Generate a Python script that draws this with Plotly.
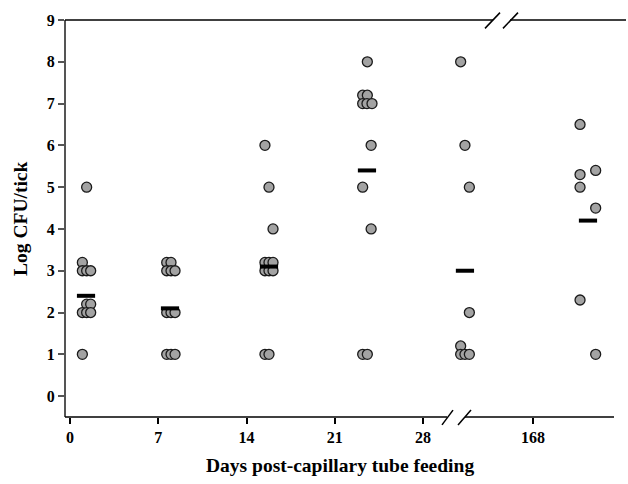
import plotly.graph_objects as go

# ---- data ----
tick_days = [0, 7, 14, 21, 28]
tick_168 = [168]

# each group: x positions (on the axis scale, incl. jitter) and Log CFU/tick values
d0_x = [1.32, 0.98, 0.98, 1.32, 1.64, 1.32, 1.64, 0.98, 1.32, 1.64, 0.98]
d0_y = [5.0, 3.2, 3.0, 3.0, 3.0, 2.2, 2.2, 2.0, 2.0, 2.0, 1.0]
d7_x = [7.67, 8.01, 7.67, 8.01, 8.33, 7.67, 8.01, 8.33, 7.67, 8.01, 8.33]
d7_y = [3.2, 3.2, 3.0, 3.0, 3.0, 2.0, 2.0, 2.0, 1.0, 1.0, 1.0]
d14_x = [15.46, 15.78, 16.10, 15.46, 15.78, 16.10, 15.46, 15.78, 16.10, 15.46, 15.78]
d14_y = [6.0, 5.0, 4.0, 3.2, 3.2, 3.2, 3.0, 3.0, 3.0, 1.0, 1.0]
d21_x = [23.58, 23.21, 23.58, 23.21, 23.55, 23.95, 23.88, 23.21, 23.88, 23.21, 23.58]
d21_y = [8.0, 7.2, 7.2, 7.0, 7.0, 7.0, 6.0, 5.0, 4.0, 1.0, 1.0]
d28_x = [30.98, 31.32, 31.67, 31.67, 30.98, 30.98, 31.32, 31.67]
d28_y = [8.0, 6.0, 5.0, 2.0, 1.2, 1.0, 1.0, 1.0]
d168_x = [171.73, 172.97, 171.73, 171.73, 172.97, 171.73, 172.97]
d168_y = [6.5, 5.4, 5.3, 5.0, 4.5, 2.3, 1.0]

mean_x = [1.27, 7.93, 15.78, 23.55, 31.32]
mean_y = [2.4, 2.1, 3.1, 5.4, 3.0]
mean168_x = [172.36]
mean168_y = [4.2]

# ---- figure ----
FONT = "Liberation Serif"
pt_marker = dict(symbol="circle", size=10, color="#a3a3a3",
                 line=dict(color="#1a1a1a", width=1.3))
bar_marker = dict(symbol="line-ew", size=13, color="black",
                  line=dict(color="black", width=4))

fig = go.Figure()
all_x = d0_x + d7_x + d14_x + d21_x + d28_x
all_y = d0_y + d7_y + d14_y + d21_y + d28_y
fig.add_trace(go.Scatter(x=all_x, y=all_y, mode="markers", marker=pt_marker,
                         xaxis="x", yaxis="y", showlegend=False))
fig.add_trace(go.Scatter(x=d168_x, y=d168_y, mode="markers", marker=pt_marker,
                         xaxis="x2", yaxis="y", showlegend=False))
fig.add_trace(go.Scatter(x=mean_x, y=mean_y, mode="markers", marker=bar_marker,
                         xaxis="x", yaxis="y", showlegend=False))
fig.add_trace(go.Scatter(x=mean168_x, y=mean168_y, mode="markers", marker=bar_marker,
                         xaxis="x2", yaxis="y", showlegend=False))

# layout in pixels
W, H = 628, 484
L, R, T, B = 66, 614, 14, 417
PW, PH = R - L, B - T
px_per_day = 12.61
split_px = 500


def px(xp):
    return (xp - L) / PW


def py(yp):
    return (B - yp) / PH


tickfont = dict(family=FONT, size=16, color="black", weight="bold")
xcommon = dict(showline=False, showgrid=False, zeroline=False, ticks="outside",
               ticklen=6, tickwidth=1.5, tickcolor="black", tickfont=tickfont,
               anchor="y", fixedrange=True)

fig.update_layout(
    width=W, height=H,
    margin=dict(l=L, r=W - R, t=T, b=H - B),
    paper_bgcolor="white", plot_bgcolor="white",
    xaxis=dict(domain=[0, px(split_px)],
               range=[(L - 70) / px_per_day, (split_px - 70) / px_per_day],
               tickvals=tick_days, ticktext=[str(d) for d in tick_days], **xcommon),
    xaxis2=dict(domain=[px(split_px), 1],
                range=[168 - (533 - split_px) / px_per_day, 168 + (R - 533) / px_per_day],
                tickvals=tick_168, ticktext=[str(d) for d in tick_168], **xcommon),
    yaxis=dict(range=[-0.5, 9], tickvals=list(range(10)), showgrid=False,
               zeroline=False, showline=True, linecolor="#555555", linewidth=2,
               ticks="outside", ticklen=6, tickwidth=1.5, tickcolor="#555555",
               tickfont=tickfont, fixedrange=True),
    showlegend=False,
)

line_style = dict(color="black", width=1.5)
shapes = [
    # bottom axis with break
    dict(type="line", xref="paper", yref="paper", x0=px(L - 1), x1=px(447), y0=0, y1=0, line=line_style),
    dict(type="line", xref="paper", yref="paper", x0=px(465), x1=1, y0=0, y1=0, line=line_style),
    dict(type="line", xref="paper", yref="paper", x0=px(442), x1=px(453), y0=py(425), y1=py(410), line=line_style),
    dict(type="line", xref="paper", yref="paper", x0=px(458), x1=px(471), y0=py(425), y1=py(410), line=line_style),
    # top frame line with break
    dict(type="line", xref="paper", yref="paper", x0=px(L - 1), x1=px(493), y0=1, y1=1, line=line_style),
    dict(type="line", xref="paper", yref="paper", x0=px(510), x1=px(626), y0=1, y1=1, line=line_style),
    dict(type="line", xref="paper", yref="paper", x0=px(485), x1=px(500), y0=py(22.5), y1=py(6.5), line=line_style),
    dict(type="line", xref="paper", yref="paper", x0=px(503), x1=px(518), y0=py(22.5), y1=py(6.5), line=line_style),
]
fig.update_layout(shapes=shapes)

fig.add_annotation(text="<b>Days post-capillary tube feeding</b>", xref="paper", yref="paper",
                   x=px(340), y=py(466), xanchor="center", yanchor="middle", showarrow=False,
                   font=dict(family=FONT, size=19.5, color="black"))
fig.add_annotation(text="<b>Log CFU/tick</b>", xref="paper", yref="paper",
                   x=px(21), y=py(216), xanchor="center", yanchor="middle", showarrow=False,
                   textangle=-90, font=dict(family=FONT, size=19.5, color="black"))

fig.write_html("out.html")
